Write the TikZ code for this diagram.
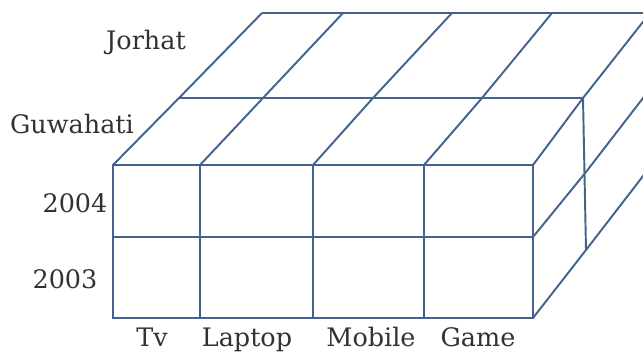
\documentclass[tikz,border=0pt]{standalone}
\usepackage{fontspec}
\setmainfont{DejaVu Serif}
\usetikzlibrary{positioning}
\definecolor{cubeblue}{RGB}{66,100,140}
\definecolor{labelgray}{RGB}{50,50,50}

\begin{document}
\begin{tikzpicture}[x=.02cm,y=-.02cm,line width=1.1pt,
  every node/.style={font=\fontsize{14.5}{17}\selectfont,text=labelgray,anchor=base}]
\useasboundingbox (0,0) rectangle (643,358);
\clip (0,0) rectangle (643,358);
% front face
\draw[cubeblue] (113,165) rectangle (533,318);
\draw[cubeblue] (113,237)--(533,237);
\foreach \x in {200,313,424} \draw[cubeblue] (\x,165)--(\x,318);
% top face
\draw[cubeblue] (179,98)--(583,98);\draw[cubeblue] (262,13)--(660,13);
\foreach \a/\b/\c in {113/179/262,200/263/343,313/373/452,424/482/552,533/583/650}
  \draw[cubeblue] (\a,165)--(\b,98)--(\c,13);
% side face
\draw[cubeblue] (533,237)--(586,172)--(650,89);
\draw[cubeblue] (533,318)--(586,250)--(650,167);
\draw[cubeblue] (583,98)--(586,250);
% labels
\node (jorhat) at (146,50){Jorhat};\node (guwahati) at (72,134){Guwahati};
\node (y2004) at (75,213){2004};\node (y2003) at (65,289){2003};
\node (tv) at (152,346){Tv};\node (laptop) at (247,346){Laptop};
\node (mobile) at (371,346){Mobile};\node (game) at (478,346){Game};
\end{tikzpicture}
\end{document}
